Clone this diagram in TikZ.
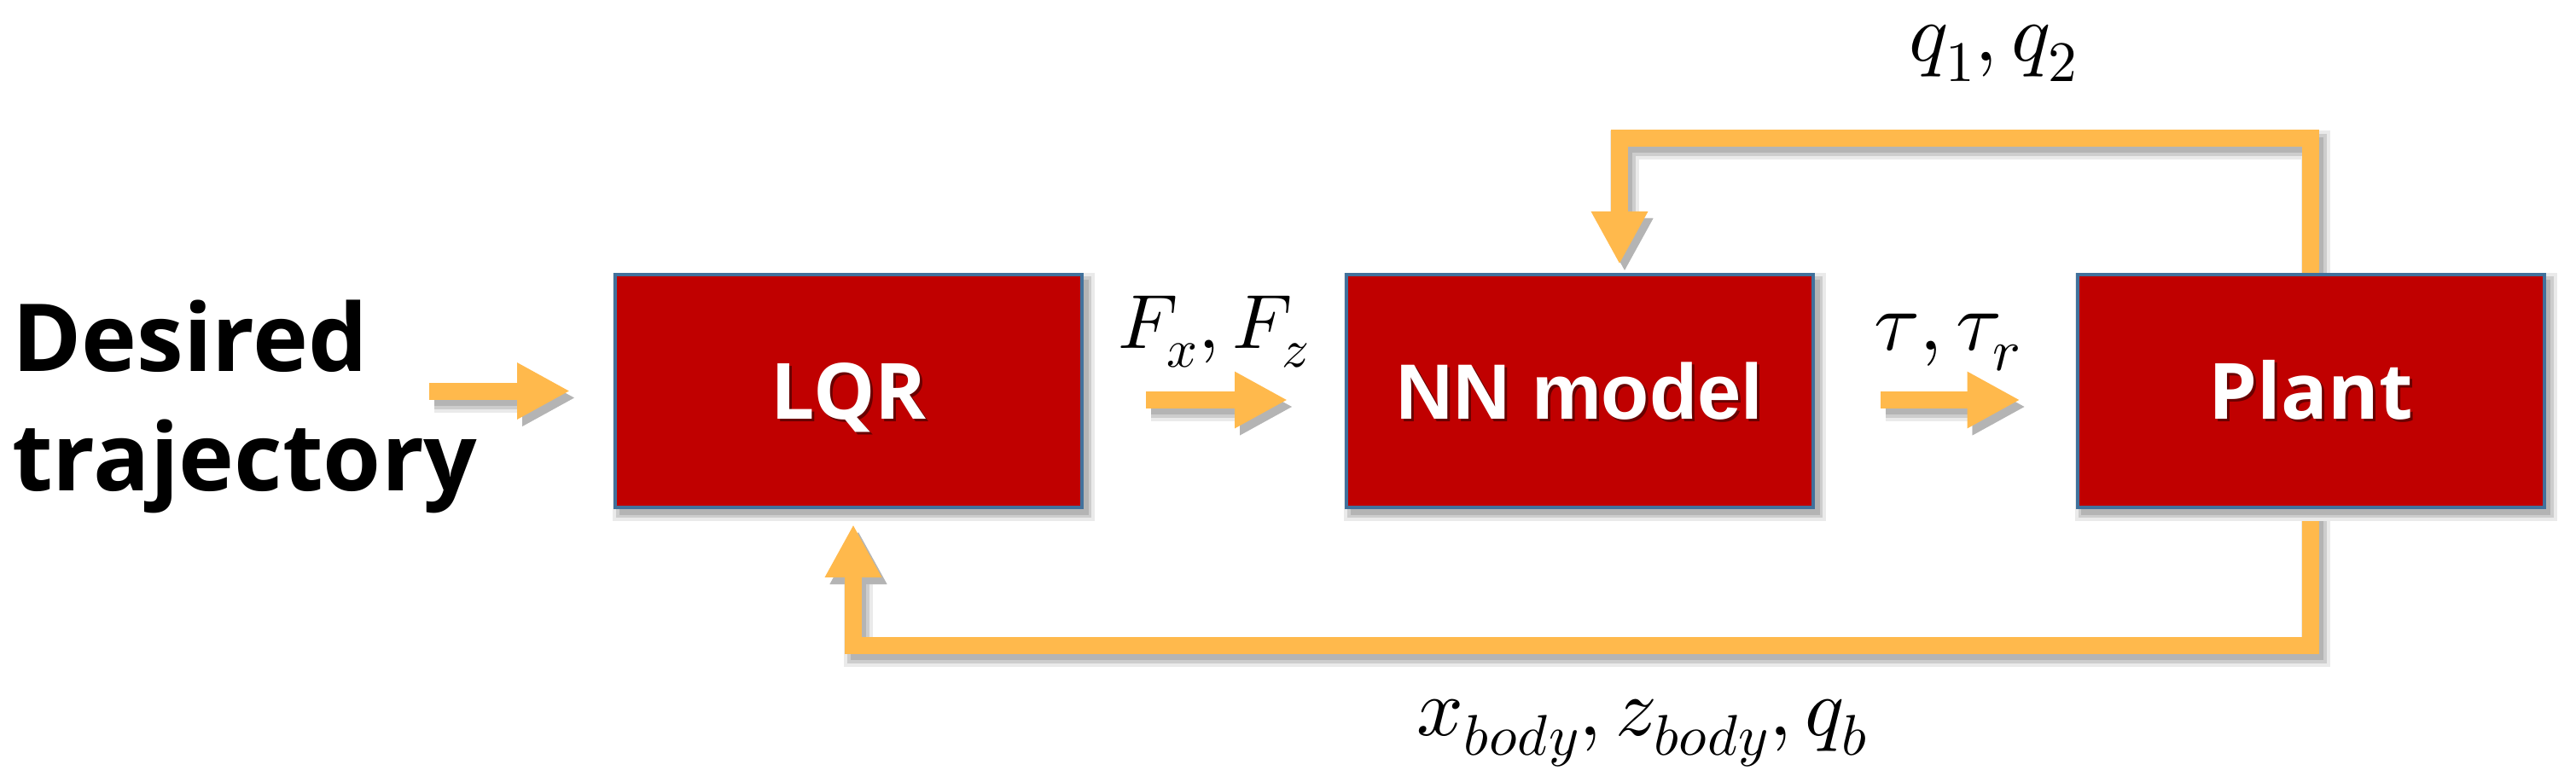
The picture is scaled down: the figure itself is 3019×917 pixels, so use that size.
\documentclass[tikz,border=0pt]{standalone}
\usepackage{fontspec}
\usepackage{unicode-math}
\usetikzlibrary{arrows.meta}
\newfontfamily\osans{Open Sans}
\newfontfamily\lsans{Liberation Sans}
\definecolor{boxred}{RGB}{192,0,0}
\definecolor{boxline}{RGB}{65,113,156}
\definecolor{arrc}{RGB}{255,185,76}
\definecolor{tshadow}{RGB}{105,0,0}
\definecolor{shA}{RGB}{234,234,234}
\definecolor{shB}{RGB}{205,205,205}
\definecolor{shC}{RGB}{180,180,180}
\newcommand\shtxt[1]{\rlap{\kern3pt\raisebox{-3pt}{\textcolor{tshadow}{#1}}}\textcolor{white}{#1}}
\pgfdeclarelayer{bgfill}
\pgfdeclarelayer{back}
\pgfsetlayers{bgfill,back,main}
\begin{document}
\begin{tikzpicture}[x=1pt,y=-1pt,
  blockbox/.style={draw=boxline, line width=4pt, fill=boxred,
    minimum width=547pt, minimum height=273pt, inner sep=0pt, outer sep=2pt,
    text height=65pt, text depth=0pt,
    preaction={draw=shA, fill=shA, line width=18pt, transform canvas={shift={(6pt,-7pt)}}},
    preaction={draw=shB, fill=shB, line width=10pt, transform canvas={shift={(6pt,-7pt)}}},
    preaction={draw=shC, fill=shC, line width=3pt, transform canvas={shift={(6pt,-7pt)}}}},
  boxtxt/.style={font=\osans\bfseries\fontsize{91}{91}\selectfont},
  dtxt/.style={font=\osans\bfseries\fontsize{110}{110}\selectfont, inner sep=0pt, anchor=base west},
  mlab/.style={inner sep=0pt, anchor=base},
  flow/.style={draw=arrc, line width=20pt, line join=miter,
    -{Triangle[width=62pt,length=62pt]},
    preaction={draw=shA, line width=34pt, transform canvas={shift={(6pt,-8pt)}}},
    preaction={draw=shB, line width=26pt, transform canvas={shift={(6pt,-8pt)}}},
    preaction={draw=shC, line width=18pt, transform canvas={shift={(6pt,-8pt)}}}}
]
\begin{pgfonlayer}{bgfill}
\useasboundingbox[fill=white] (0,0) rectangle (3019,917);
\end{pgfonlayer}

% blocks
\node[blockbox, boxtxt] (lqr) at (994.5,458.5) {\shtxt{LQR}};
\node[blockbox, font=\lsans\bfseries\fontsize{92}{92}\selectfont] (nn) at (1851.5,458.5) {\shtxt{NN model}};
\node[blockbox, boxtxt] (plant) at (2708,458.5) {\shtxt{Plant}};

% input text
\node[dtxt] (des1) at (14,435) {Desired};
\node[dtxt] (des2) at (14,575) {trajectory};

% labels
\node[mlab, font=\fontsize{90}{90}\selectfont] (fxz) at (1422,408) {$F_x,F_z$};
\node[mlab, font=\fontsize{98}{98}\selectfont] (tau) at (2282,410) {$\tau,\tau_r$};
\node[mlab, font=\fontsize{96}{96}\selectfont] (q12) at (2336,72) {$q_1,q_2$};
\node[mlab, font=\fontsize{96}{96}\selectfont] (xzq) at (1925,862) {$x_{body},z_{body},q_b$};

\coordinate (inp) at (503,458.5);
\coordinate (tl) at (1898,162);
\coordinate (bl) at (1000,757);

\begin{pgfonlayer}{back}
\draw[flow] (inp) -- ([xshift=-51pt]lqr.west);
\draw[flow] ([shift={(73pt,-10.5pt)}]lqr.east) -- ([shift={(-67pt,-10.5pt)}]nn.west);
\draw[flow] ([shift={(77pt,-10.5pt)}]nn.east) -- ([shift={(-65pt,-10.5pt)}]plant.west);
\draw[flow] (plant.north) |- (tl) -- ([xshift=46.5pt,yshift=10pt]nn.north);
\draw[flow] (plant.south) |- (bl) -- ([xshift=5.5pt,yshift=-18pt]lqr.south);
\end{pgfonlayer}
\end{tikzpicture}
\end{document}
